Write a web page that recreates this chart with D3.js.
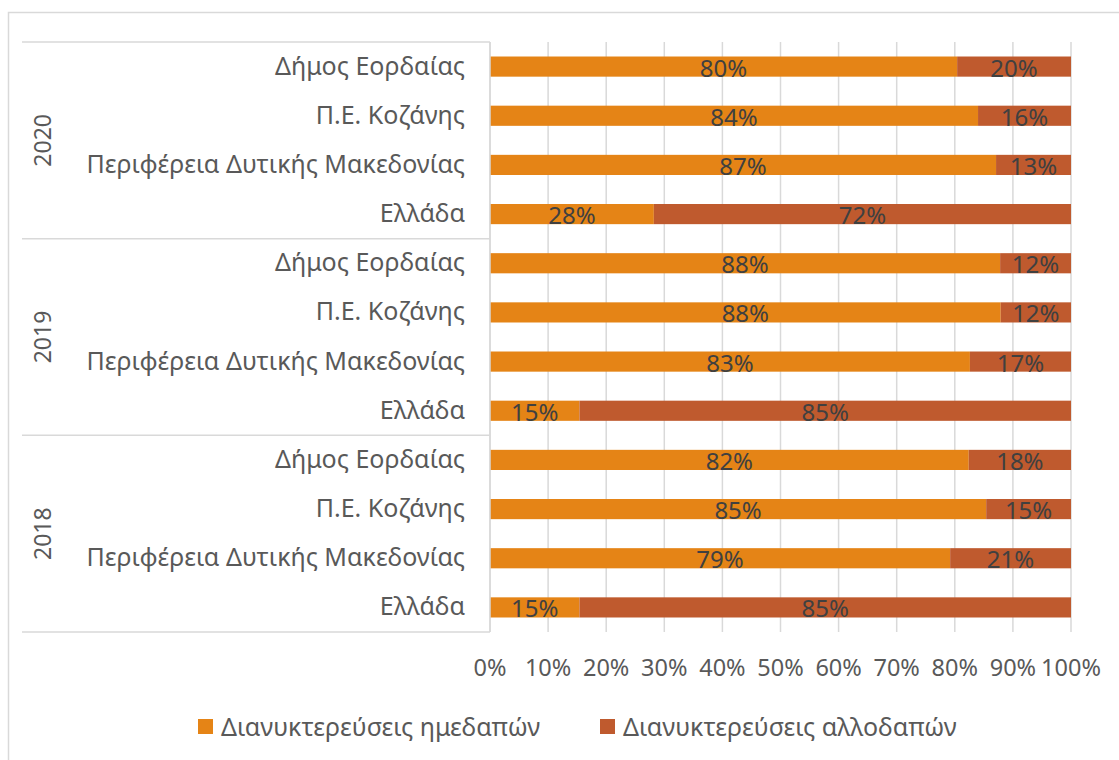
<!DOCTYPE html>
<html>
<head>
<meta charset="utf-8">
<script src="https://cdn.jsdelivr.net/npm/d3@7"></script>
<style>
  body { margin: 0; background: #fff; }
  text { font-family: "Noto Sans", "Open Sans", sans-serif; }
</style>
</head>
<body>
<div id="chart"></div>
<script>
let width = 1119;
let height = 760;

let years = ["2020", "2019", "2018"];
let areas = ["Δήμος Εορδαίας", "Π.Ε. Κοζάνης", "Περιφέρεια Δυτικής Μακεδονίας", "Ελλάδα"];
let seriesNames = ["Διανυκτερεύσεις ημεδαπών", "Διανυκτερεύσεις αλλοδαπών"];
// share of domestic overnight stays (%), per year, in the order of areas
let domestic = {
  "2020": [80.4, 84.0, 87.1, 28.2],
  "2019": [87.8, 87.9, 82.6, 15.4],
  "2018": [82.4, 85.4, 79.2, 15.4]
};
let ticks = [0, 10, 20, 30, 40, 50, 60, 70, 80, 90, 100];
let colors = ["#e58416", "#bf5a2e"];

let rows = [];
years.forEach(function (y) {
  areas.forEach(function (a, i) {
    let d = domestic[y][i];
    rows.push({ key: y + "|" + a, year: y, area: a, dom: d, fgn: 100 - d });
  });
});

let svg = d3.select("#chart").append("svg").attr("width", width).attr("height", height);

// chart border
svg.append("rect")
  .attr("x", 8.5).attr("y", 12.5)
  .attr("width", width + 20).attr("height", height + 20)
  .attr("fill", "none").attr("stroke", "#d9d9d9").attr("stroke-width", 1.5);

let plotTop = 42, plotBottom = 632;
let xScale = d3.scaleLinear().domain([0, 100]).range([490, 1071]);
let yScale = d3.scaleBand()
  .domain(rows.map(function (d) { return d.key; }))
  .range([plotTop, plotBottom])
  .paddingInner(0.59)
  .paddingOuter(0.295);

// gridlines
svg.selectAll(".grid").data(ticks).enter().append("line")
  .attr("class", "grid")
  .attr("x1", function (d) { return xScale(d); })
  .attr("x2", function (d) { return xScale(d); })
  .attr("y1", plotTop).attr("y2", plotBottom)
  .attr("stroke", "#d9d9d9").attr("stroke-width", 1.5);

// group separators
let groupH = (plotBottom - plotTop) / years.length;
svg.selectAll(".sep").data(d3.range(years.length + 1)).enter().append("line")
  .attr("class", "sep")
  .attr("x1", 22).attr("x2", xScale(0))
  .attr("y1", function (d) { return plotTop + d * groupH; })
  .attr("y2", function (d) { return plotTop + d * groupH; })
  .attr("stroke", "#d9d9d9").attr("stroke-width", 1.5);

// bars
let bars = svg.selectAll(".row").data(rows).enter().append("g").attr("class", "row");
bars.append("rect")
  .attr("x", xScale(0))
  .attr("y", function (d) { return yScale(d.key); })
  .attr("width", function (d) { return xScale(d.dom) - xScale(0); })
  .attr("height", yScale.bandwidth())
  .attr("fill", colors[0]);
bars.append("rect")
  .attr("x", function (d) { return xScale(d.dom); })
  .attr("y", function (d) { return yScale(d.key); })
  .attr("width", function (d) { return xScale(100) - xScale(d.dom); })
  .attr("height", yScale.bandwidth())
  .attr("fill", colors[1]);

// data labels
bars.append("text")
  .attr("x", function (d) { return (xScale(0) + xScale(d.dom)) / 2; })
  .attr("y", function (d) { return yScale(d.key) + yScale.bandwidth() / 2 + 10; })
  .attr("text-anchor", "middle").attr("font-size", 24).attr("fill", "#404040")
  .text(function (d) { return Math.round(d.dom) + "%"; });
bars.append("text")
  .attr("x", function (d) { return (xScale(d.dom) + xScale(100)) / 2; })
  .attr("y", function (d) { return yScale(d.key) + yScale.bandwidth() / 2 + 10; })
  .attr("text-anchor", "middle").attr("font-size", 24).attr("fill", "#404040")
  .text(function (d) { return Math.round(d.fgn) + "%"; });

// category labels
bars.append("text")
  .attr("x", 465)
  .attr("y", function (d) { return yScale(d.key) + yScale.bandwidth() / 2 + 8; })
  .attr("text-anchor", "end").attr("font-size", 25).attr("fill", "#595959")
  .text(function (d) { return d.area; });

// year labels
svg.selectAll(".year").data(years).enter().append("text")
  .attr("class", "year")
  .attr("transform", function (d, i) {
    return "translate(51," + (plotTop + (i + 0.5) * groupH) + ") rotate(-90)";
  })
  .attr("text-anchor", "middle").attr("font-size", 23).attr("fill", "#595959")
  .text(function (d) { return d; });

// vertical category axis line
svg.append("line")
  .attr("x1", xScale(0)).attr("x2", xScale(0))
  .attr("y1", plotTop).attr("y2", plotBottom)
  .attr("stroke", "#d9d9d9").attr("stroke-width", 1.5);

// x axis tick labels
svg.selectAll(".tick-label").data(ticks).enter().append("text")
  .attr("class", "tick-label")
  .attr("x", function (d) { return xScale(d); })
  .attr("y", 676)
  .attr("text-anchor", "middle").attr("font-size", 23.5).attr("fill", "#595959")
  .text(function (d) { return d + "%"; });

// legend
let legendX = [198, 600];
let legend = svg.selectAll(".legend").data(seriesNames).enter().append("g")
  .attr("class", "legend")
  .attr("transform", function (d, i) { return "translate(" + legendX[i] + ",719)"; });
legend.append("rect").attr("width", 15).attr("height", 15)
  .attr("fill", function (d, i) { return colors[i]; });
legend.append("text").attr("x", 23).attr("y", 16.5)
  .attr("font-size", 25).attr("fill", "#595959")
  .text(function (d) { return d; });
</script>
</body>
</html>
